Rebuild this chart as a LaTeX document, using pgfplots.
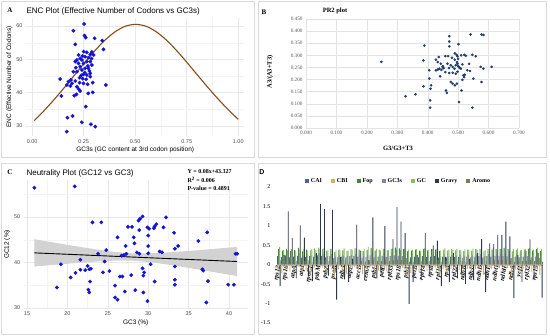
\documentclass[border=0pt]{standalone}
\usepackage{fontspec}
\setmainfont{Liberation Sans}
\newfontfamily\tnr{Liberation Serif}
\usepackage{pgfplots}
\usepackage{pgfplotstable}
\pgfplotsset{compat=1.18}
\definecolor{ptblue}{HTML}{1414D2}
\definecolor{encbrown}{HTML}{8B4A1C}
\definecolor{prnavy}{HTML}{1F3C6E}
\definecolor{cCAI}{HTML}{4A6391}
\definecolor{cCBI}{HTML}{D2AE6C}
\definecolor{cFop}{HTML}{3F8A2E}
\definecolor{cGCs}{HTML}{8D7BC2}
\definecolor{cGC}{HTML}{86C056}
\definecolor{cGrv}{HTML}{2C3850}
\definecolor{cAro}{HTML}{8F7253}
\pgfplotsset{dleg/.style={legend image code/.code={\fill[##1] (0pt,-2pt) rectangle (4pt,2pt);}}}
\pgfplotstableread{
i CAI CBI Fop GCs GC Gravy Aromo
0 0.22 -0.15 0.40 0.27 0.46 -0.55 0.11
1 0.20 -0.22 0.36 0.24 0.38 0.25 0.09
2 0.24 -0.08 0.41 0.28 0.37 1.37 0.12
3 0.19 -0.18 0.35 0.23 0.40 0.69 0.08
4 0.21 -0.10 0.38 0.25 0.36 -0.35 0.10
5 0.23 -0.05 0.43 0.29 0.39 1.01 0.13
6 0.18 -0.20 0.34 0.22 0.41 0.70 0.09
7 0.20 -0.14 0.39 0.26 0.37 -0.30 0.11
8 0.22 -0.25 0.37 0.24 0.40 -0.42 0.08
9 0.21 -0.09 0.42 0.27 0.38 0.30 0.12
10 0.24 -0.04 0.44 0.30 0.40 1.56 0.13
11 0.23 -0.07 0.40 0.28 0.42 1.44 0.12
12 0.19 -0.21 0.36 0.23 0.37 -0.28 0.09
13 0.22 -0.06 0.41 0.27 0.41 1.41 0.11
14 0.17 -0.30 0.33 0.21 0.38 -0.90 0.07
15 0.20 -0.12 0.38 0.25 0.39 0.20 0.10
16 0.21 -0.18 0.37 0.24 0.42 -0.38 0.09
17 0.19 -0.23 0.35 0.23 0.36 -0.45 0.08
18 0.22 -0.10 0.40 0.26 0.39 0.15 0.11
19 0.23 -0.06 0.42 0.28 0.43 1.03 0.12
20 0.21 -0.13 0.39 0.26 0.37 0.35 0.10
21 0.18 -0.24 0.35 0.22 0.40 -0.40 0.08
22 0.20 -0.11 0.38 0.25 0.45 0.12 0.10
23 0.24 -0.05 0.43 0.29 0.38 1.22 0.13
24 0.19 -0.20 0.36 0.23 0.41 -0.35 0.09
25 0.21 -0.15 0.39 0.26 0.37 -0.20 0.10
26 0.23 -0.07 0.41 0.28 0.40 0.99 0.12
27 0.20 -0.17 0.37 0.24 0.38 -0.30 0.09
28 0.22 -0.09 0.40 0.27 0.42 0.66 0.11
29 0.24 -0.04 0.44 0.30 0.39 1.48 0.13
30 0.23 -0.06 0.42 0.28 0.37 1.11 0.12
31 0.22 -0.08 0.40 0.27 0.41 0.81 0.11
32 0.17 -0.28 0.34 0.21 0.39 -1.01 0.07
33 0.19 -0.22 0.36 0.23 0.38 -0.45 0.08
34 0.21 -0.12 0.39 0.26 0.40 0.25 0.10
35 0.19 -0.19 0.36 0.24 0.36 -0.40 0.09
36 0.22 -0.08 0.41 0.27 0.42 0.81 0.11
37 0.20 -0.16 0.37 0.25 0.38 -0.25 0.10
38 0.21 -0.10 0.40 0.26 0.41 0.50 0.11
39 0.22 -0.09 0.39 0.27 0.40 0.62 0.12
40 0.18 -0.25 0.35 0.22 0.37 -0.55 0.08
41 0.21 -0.12 0.38 0.26 0.42 0.20 0.10
42 0.19 -0.21 0.36 0.23 0.39 -0.45 0.09
43 0.21 -0.11 0.40 0.26 0.38 0.30 0.11
44 0.20 -0.18 0.37 0.24 0.41 -0.35 0.09
45 0.20 -0.14 0.38 0.25 0.37 -0.20 0.10
46 0.18 -0.23 0.35 0.23 0.40 -0.50 0.08
47 0.21 -0.10 0.39 0.26 0.39 0.15 0.11
48 0.19 -0.20 0.36 0.24 0.42 -0.40 0.09
49 0.21 -0.11 0.40 0.26 0.38 0.30 0.10
50 0.22 -0.08 0.41 0.27 0.41 0.66 0.12
51 0.18 -0.26 0.34 0.22 0.37 -0.70 0.08
52 0.22 -0.09 0.40 0.27 0.40 0.55 0.11
53 0.21 -0.10 0.39 0.26 0.43 0.53 0.11
54 0.22 -0.07 0.41 0.28 0.38 0.77 0.12
55 0.23 -0.08 0.40 0.27 0.41 0.77 0.12
56 0.23 -0.05 0.43 0.29 0.39 1.11 0.13
57 0.22 -0.08 0.40 0.27 0.37 0.73 0.11
58 0.17 -0.27 0.34 0.21 0.40 -0.86 0.07
59 0.21 -0.12 0.38 0.26 0.42 0.25 0.10
60 0.19 -0.21 0.36 0.23 0.38 -0.45 0.09
61 0.21 -0.10 0.39 0.26 0.41 0.35 0.10
62 0.22 -0.08 0.41 0.27 0.43 0.65 0.12
63 0.19 -0.20 0.36 0.24 0.39 -0.40 0.09
64 0.21 -0.11 0.40 0.26 0.44 0.30 0.11
65 0.17 -0.26 0.35 0.22 0.41 -0.85 0.08
}\ddata
\begin{document}
\begin{tikzpicture}[x=1pt,y=1pt]
\useasboundingbox (0pt,0pt) rectangle (550pt,336pt);
\fill[white] (0pt,0pt) rectangle (550pt,336pt);
\draw[gray!30] (1.5pt,178.5pt) rectangle (254.5pt,334.5pt);
\draw[gray!30] (258pt,178.5pt) rectangle (546pt,334.5pt);
\draw[gray!30] (1.5pt,2pt) rectangle (254.5pt,173pt);
\draw[gray!30] (258pt,2pt) rectangle (546pt,173pt);

% ---------------- Panel A
\begin{axis}[at={(26pt,200pt)}, anchor=south west, scale only axis,
  width=218.4pt, height=118.3pt, enlargelimits=false,
  xmin=-0.03, xmax=1.03, ymin=27, ymax=62.5,
  xtick={0,0.25,0.5,0.75,1}, ytick={30,40,50,60},
  minor xtick={0.125,0.375,0.625,0.875}, minor ytick={35,45,55},
  grid=both, major grid style={gray!18, line width=0.6pt},
  minor grid style={gray!9, line width=0.3pt},
  axis line style={draw=none}, tick style={draw=none},
  /pgf/number format/assume math mode=true,
  ticklabel style={font=\fontsize{5.5}{6}\selectfont, text=black!70},
  x tick label style={/pgf/number format/.cd, fixed, zerofill, precision=2},
  xlabel={GC3s (GC content at 3rd codon position)},
  ylabel={ENC (Effective Number of Codons)},
  label style={font=\fontsize{6.5}{7.5}\selectfont},
  xlabel style={yshift=3pt}, ylabel style={yshift=-3pt}]
\addplot[only marks, mark=*, mark size=1.7pt, ptblue] coordinates {
(0.252,60.6)(0.200,58.6)(0.254,57.1)(0.260,56.5)(0.303,56.3)(0.340,55.6)(0.209,54.5)(0.346,53.0)
(0.265,52.1)(0.282,51.5)(0.298,51.3)(0.225,51.3)(0.233,50.3)(0.217,49.8)(0.241,49.8)(0.257,50.8)
(0.273,50.5)(0.209,49.3)(0.225,48.8)(0.249,48.8)(0.265,49.3)(0.282,49.3)(0.290,48.3)(0.233,47.8)
(0.257,47.3)(0.273,47.3)(0.241,46.8)(0.217,46.3)(0.200,46.3)(0.282,45.8)(0.249,45.5)(0.265,45.3)
(0.282,44.8)(0.230,44.5)(0.188,43.8)(0.176,43.3)(0.136,44.1)(0.209,43.5)(0.193,42.8)(0.168,42.3)
(0.249,42.8)(0.269,42.5)(0.294,43.0)(0.217,41.8)(0.225,41.1)(0.233,40.5)(0.204,39.1)(0.272,39.8)
(0.294,40.1)(0.142,39.0)(0.358,42.3)(0.260,35.8)(0.171,32.5)(0.196,33.0)(0.241,31.1)(0.285,30.5)
(0.306,29.8)(0.168,28.3)(0.245,51.0)(0.270,48.0)(0.255,46.0)(0.238,45.2)(0.262,44.0)(0.212,47.5)
(0.288,50.2)(0.250,52.3)(0.278,46.5)(0.230,43.0)(0.290,52.2)(0.245,44.2)(0.185,42.0)(0.215,39.5)};
\addplot[encbrown, line width=1.1pt, smooth] coordinates {
(0.01,31.6)(0.05,34.09)(0.1,37.47)(0.15,41.08)(0.2,44.85)(0.25,48.65)(0.3,52.3)(0.35,55.56)
(0.4,58.17)(0.45,59.88)(0.5,60.5)(0.55,59.98)(0.6,58.37)(0.65,55.86)(0.7,52.7)(0.75,49.15)
(0.8,45.45)(0.85,41.78)(0.9,38.27)(0.95,34.99)(1.0,32.0)};
\end{axis}
\node[anchor=west, font=\fontsize{8}{9}\selectfont] at (23pt,325pt) {ENC Plot (Effective Number of Codons vs GC3s)};
\node[font=\tnr\bfseries\fontsize{7}{8}\selectfont] at (10pt,326pt) {A};

% ---------------- Panel B
\begin{axis}[at={(306pt,208pt)}, anchor=south west, scale only axis,
  width=213pt, height=109pt, enlargelimits=false,
  xmin=0, xmax=0.7, ymin=0, ymax=0.45,
  xtick={0,0.1,0.2,0.3,0.4,0.5,0.6,0.7},
  ytick={0,0.05,0.1,0.15,0.2,0.25,0.3,0.35,0.4,0.45},
  grid=major, major grid style={gray!22, line width=0.4pt},
  axis line style={draw=none}, tick style={draw=none},
  /pgf/number format/assume math mode=true,
  ticklabel style={font=\tnr\fontsize{5.2}{6}\selectfont, text=black!65,
    /pgf/number format/.cd, fixed, zerofill, precision=3}]
\addplot[only marks, mark=*, mark size=1.1pt, prnavy] coordinates {
(0.248,0.273)(0.327,0.131)(0.360,0.139)
(0.471,0.379)(0.471,0.357)(0.471,0.337)(0.541,0.386)(0.577,0.386)(0.583,0.384)(0.389,0.340)(0.501,0.346)(0.386,0.279)
(0.436,0.293)(0.458,0.297)(0.467,0.297)(0.489,0.308)(0.495,0.302)(0.498,0.296)(0.520,0.302)(0.525,0.298)(0.547,0.302)(0.558,0.296)
(0.427,0.282)(0.433,0.272)(0.443,0.265)(0.449,0.252)(0.438,0.245)(0.433,0.241)(0.427,0.238)
(0.465,0.265)(0.476,0.259)(0.482,0.252)(0.492,0.259)(0.498,0.265)(0.503,0.252)(0.509,0.245)
(0.496,0.272)(0.489,0.282)(0.514,0.263)(0.536,0.265)(0.530,0.238)(0.539,0.235)(0.517,0.217)
(0.574,0.252)(0.583,0.245)(0.610,0.252)(0.405,0.238)(0.405,0.204)(0.411,0.176)
(0.458,0.231)(0.471,0.227)(0.482,0.228)(0.492,0.224)(0.441,0.213)(0.476,0.190)(0.482,0.183)
(0.489,0.176)(0.496,0.183)(0.514,0.199)(0.550,0.204)(0.577,0.190)(0.386,0.172)(0.409,0.162)
(0.460,0.155)(0.463,0.145)(0.511,0.155)(0.408,0.114)(0.408,0.084)(0.503,0.107)(0.547,0.084)
(0.500,0.255)(0.505,0.248)(0.488,0.245)(0.445,0.240)(0.452,0.247)(0.470,0.248)(0.522,0.220)
(0.520,0.210)(0.498,0.232)(0.510,0.300)(0.500,0.285)(0.480,0.290)(0.450,0.255)};
\end{axis}
\node[font=\tnr\bfseries\fontsize{6.5}{7.5}\selectfont] at (335pt,325pt) {PR2 plot};
\node[font=\tnr\bfseries\fontsize{6.5}{7.5}\selectfont] at (398pt,188pt) {G3/G3+T3};
\node[rotate=90, font=\tnr\bfseries\fontsize{6.5}{7.5}\selectfont] at (270pt,264pt) {A3/(A3+T3)};
\node[font=\tnr\bfseries\fontsize{7}{8}\selectfont] at (264pt,324pt) {B};

% ---------------- Panel C
\begin{axis}[at={(23.8pt,27.6pt)}, anchor=south west, scale only axis,
  width=223.8pt, height=127.9pt, enlargelimits=false,
  xmin=14.6, xmax=42.3, ymin=29.9, ymax=58,
  xtick={15,20,25,30,35,40}, ytick={30,40,50},
  minor xtick={17.5,22.5,27.5,32.5,37.5}, minor ytick={35,45,55},
  grid=both, major grid style={gray!18, line width=0.6pt},
  minor grid style={gray!9, line width=0.3pt},
  axis line style={draw=none}, tick style={draw=none},
  /pgf/number format/assume math mode=true,
  ticklabel style={font=\fontsize{5.5}{6}\selectfont, text=black!70},
  xlabel={GC3 (\%)}, ylabel={GC12 (\%)},
  label style={font=\fontsize{6.5}{7.5}\selectfont},
  xlabel style={yshift=3pt}, ylabel style={yshift=-3pt}]
\addplot[fill=gray!35, draw=none] coordinates {
(15.9,45.1)(18,44.46)(20,43.86)(22,43.28)(24,42.74)(26,42.27)(28,41.99)(30,41.97)(32,42.14)(34,42.38)(36,42.65)(38,42.95)(41,43.4)
(41,37.0)(38,37.91)(36,38.51)(34,39.1)(32,39.64)(30,40.11)(28,40.39)(26,40.41)(24,40.24)(22,40.0)(20,39.72)(18,39.42)(15.9,39.1)};
\addplot[black, line width=0.9pt] coordinates {(15.9,42.1)(41,40.2)};
\addplot[only marks, mark=*, mark size=1.7pt, ptblue] coordinates {
(15.9,56.4)(20.9,56.7)(29.3,50.1)(29.0,49.6)(28.8,49.2)(32.2,49.9)(23.1,48.8)(24.2,48.8)
(27.5,47.8)(28.0,47.8)(29.9,47.7)(30.1,47.4)(31.0,48.4)(30.8,47.9)(30.7,47.5)(31.9,47.7)
(28.9,47.1)(28.2,45.5)(26.2,45.5)(30.0,45.9)(33.2,46.5)(37.3,46.6)(36.2,44.7)(28.3,44.2)
(30.0,43.6)(33.7,43.6)(33.3,43.0)(27.2,43.6)(23.8,41.9)(24.8,42.7)(28.6,42.2)(28.9,41.9)
(26.7,41.5)(27.0,41.6)(27.3,41.9)(30.0,42.0)(31.4,42.4)(31.7,42.2)(40.8,41.9)(41.0,41.9)
(21.6,40.6)(24.6,40.2)(19.2,39.6)(22.5,39.2)(22.7,38.5)(21.6,38.4)(21.0,37.7)(22.2,38.3)(22.9,38.6)
(29.3,38.7)(30.3,39.6)(33.3,39.1)(36.7,38.5)(36.8,38.2)(24.4,37.8)(25.2,38.1)(26.5,36.9)
(26.8,36.9)(27.9,37.2)(29.5,37.8)(29.4,37.1)(20.4,36.7)(22.8,35.8)(30.8,35.8)(33.3,36.2)
(33.3,35.1)(37.4,35.9)(39.9,35.1)(40.6,35.1)(18.7,34.5)(25.9,34.9)(22.6,34.0)(22.7,33.4)
(27.1,33.6)(28.4,33.9)(29.4,33.4)(25.9,32.3)(26.2,31.8)(29.9,31.5)(37.2,31.2)};
\end{axis}
\node[anchor=west, font=\fontsize{8}{9}\selectfont] at (23pt,163pt) {Neutrality Plot (GC12 vs GC3)};
\node[font=\tnr\bfseries\fontsize{7}{8}\selectfont] at (10pt,164pt) {C};
\node[anchor=west, font=\tnr\bfseries\fontsize{6}{7}\selectfont] at (184pt,164pt) {Y = 0.08x+43.327};
\node[anchor=west, font=\tnr\bfseries\fontsize{6}{7}\selectfont] at (184pt,156pt) {R\textsuperscript{2} = 0.006};
\node[anchor=west, font=\tnr\bfseries\fontsize{6}{7}\selectfont] at (184pt,147.5pt) {P-value = 0.4891};

% ---------------- Panel D
\begin{axis}[at={(277pt,13pt)}, anchor=south west, scale only axis,
  width=266pt, height=136pt, enlargelimits=false,
  xmin=-0.5, xmax=65.5, ymin=-1.5, ymax=2,
  axis x line=middle, axis y line=left,
  y axis line style={draw=none}, x axis line style={gray!50, -},
  major tick length=0pt,
  xtick={0,2,...,64},
  xticklabels={rps12,rps16,atpA,atpI,rpoC1,psbM,psbZ,psaB,ndhJ,atpE,accD,cemA,psbL,petL,rpl33,rps18,psbT,petB,rpl14,rps8,rpl16,rps3,rpl22,ndhB,ndhF,ndhD,ndhE,ndhG,ndhH,ndhA,ycf1,rpl32,rps15},
  x tick label style={rotate=80, anchor=east, inner sep=1pt, font=\tnr\bfseries\itshape\fontsize{6.5}{7}\selectfont},
  ytick={-1.5,-1,-0.5,0,0.5,1,1.5,2},
  yticklabels={-1.5,-1,-0.5,0,0.5,1,1.5,2},
  y tick label style={font=\tnr\fontsize{6}{7}\selectfont, xshift=-3pt},
  legend style={at={(0.457,1)}, anchor=south, yshift=-1pt, draw=none, fill=none,
    legend columns=7, font=\tnr\bfseries\fontsize{6}{7}\selectfont,
    /tikz/every even column/.append style={column sep=7pt}},
  legend cell align=left]
\addplot[ybar, bar width=0.22, bar shift=-0.42, fill=cCAI, draw=none, dleg] table[x=i,y=CAI]{\ddata};
\addplot[ybar, bar width=0.22, bar shift=-0.28, fill=cCBI, draw=none, dleg] table[x=i,y=CBI]{\ddata};
\addplot[ybar, bar width=0.22, bar shift=-0.14, fill=cFop, draw=none, dleg] table[x=i,y=Fop]{\ddata};
\addplot[ybar, bar width=0.22, bar shift=0, fill=cGCs, draw=none, dleg] table[x=i,y=GCs]{\ddata};
\addplot[ybar, bar width=0.22, bar shift=0.14, fill=cGC, draw=none, dleg] table[x=i,y=GC]{\ddata};
\addplot[ybar, bar width=0.22, bar shift=0.28, fill=cGrv, draw=none, dleg] table[x=i,y=Gravy]{\ddata};
\addplot[ybar, bar width=0.22, bar shift=0.42, fill=cAro, draw=none, dleg] table[x=i,y=Aromo]{\ddata};
\legend{CAI,CBI,Fop,GC3s,GC,Gravy,Aromo}
\end{axis}
\node[font=\bfseries\fontsize{7}{8}\selectfont] at (262pt,164pt) {D};
\end{tikzpicture}
\end{document}
